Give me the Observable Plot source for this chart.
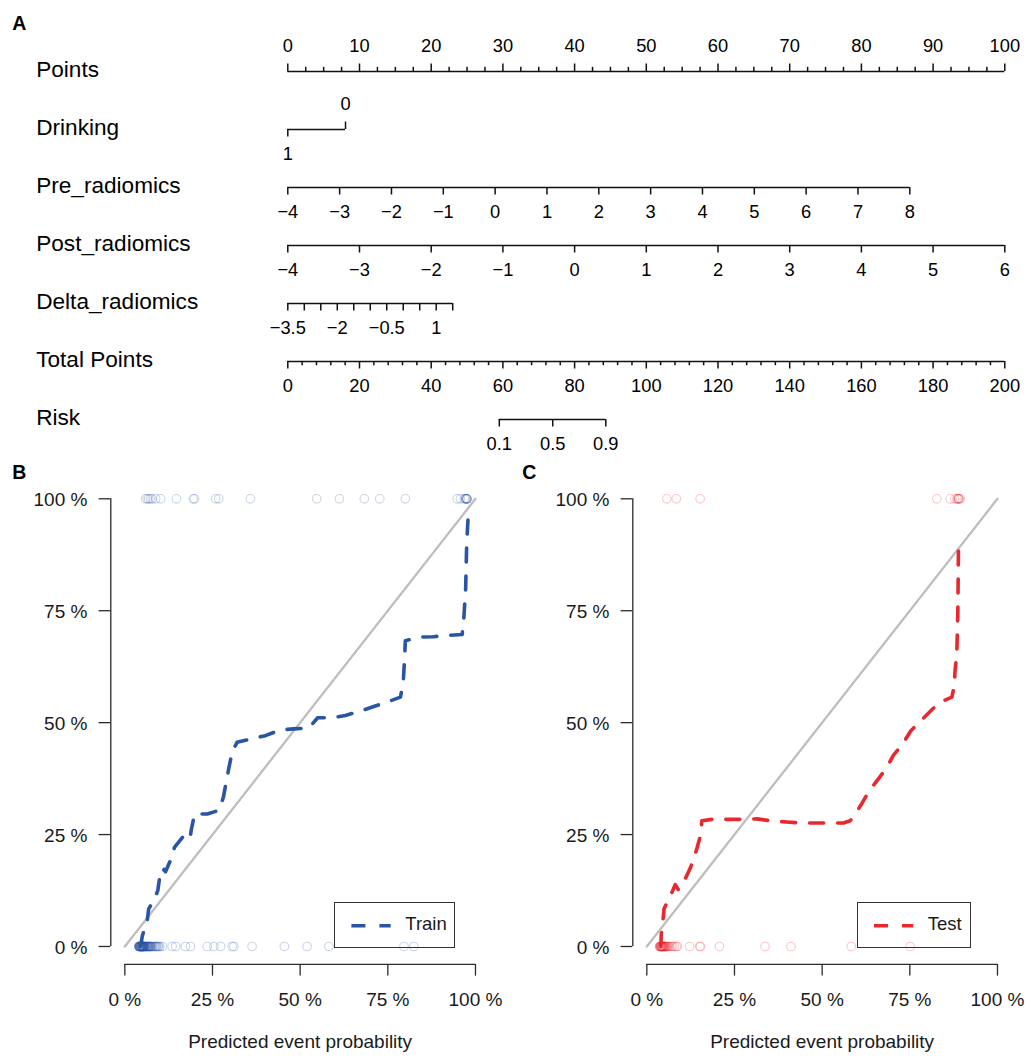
<!DOCTYPE html>
<html>
<head>
<meta charset="utf-8">
<script src="https://cdn.jsdelivr.net/npm/d3@7"></script>
<script src="https://cdn.jsdelivr.net/npm/@observablehq/plot@0.6"></script>
<style>
  html, body { margin: 0; padding: 0; background: #fff; }
  #root { position: relative; width: 1029px; height: 1057px; overflow: hidden;
          font-family: "Liberation Sans", Arial, Helvetica, sans-serif; color: #000; }
  .panel { position: absolute; }
  .tag { position: absolute; font-weight: bold; font-size: 19.5px; line-height: 19.5px; }
  .legend { position: absolute; box-sizing: border-box; border: 1.3px solid #333; background: transparent; }
  .legend svg { position: absolute; left: 0; top: 0; }
  .legend span { position: absolute; font-size: 18.5px; line-height: 1; }
</style>
</head>
<body>
<div id="root"></div>
<script>
// ---------------- Data: nomogram (panel A) ----------------
const nomoRows = ["Points", "Drinking", "Pre_radiomics", "Post_radiomics", "Delta_radiomics", "Total Points", "Risk"];

const pointsLabels = [0, 10, 20, 30, 40, 50, 60, 70, 80, 90, 100];
const pointsMinorStep = 2.5;

const drinkingLevels = ["1", "0"];
const drinkingPoints = [0, 8.05];

const preRadiomicsValues = [-4, -3, -2, -1, 0, 1, 2, 3, 4, 5, 6, 7, 8];
const preRadiomicsPoints = [0, 86.75];      // points at -4 and at 8

const postRadiomicsValues = [-4, -3, -2, -1, 0, 1, 2, 3, 4, 5, 6];
const postRadiomicsPoints = [0, 100];       // points at -4 and at 6

const deltaRadiomicsValues = [-3.5, -3, -2.5, -2, -1.5, -1, -0.5, 0, 0.5, 1, 1.5];
const deltaRadiomicsLabels = [-3.5, -2, -0.5, 1];
const deltaRadiomicsPoints = [0, 23.0];     // points at -3.5 and at 1.5

const totalPointsLabels = [0, 20, 40, 60, 80, 100, 120, 140, 160, 180, 200];
const totalPointsMinorStep = 4;

const riskLabels = [0.1, 0.5, 0.9];
const riskTotalPoints = [59.0, 73.9, 88.7];

// ---------------- Data: calibration (panels B, C) ----------------
const trainCurveX = [0.045,0.050,0.064,0.068,0.083,0.094,0.102,0.108,0.112,0.116,0.130,0.142,0.173,0.187,0.189,0.199,0.235,0.268,0.281,0.297,0.306,0.320,0.363,0.401,0.444,0.482,0.525,0.550,0.591,0.629,0.672,0.710,0.748,0.786,0.794,0.798,0.800,0.843,0.880,0.924,0.962,0.967,0.972,0.975,0.979];
const trainCurveY = [0.000,0.024,0.058,0.084,0.103,0.125,0.168,0.165,0.172,0.167,0.192,0.222,0.252,0.244,0.259,0.296,0.296,0.304,0.333,0.400,0.434,0.456,0.464,0.471,0.484,0.486,0.488,0.511,0.511,0.516,0.526,0.536,0.546,0.557,0.590,0.646,0.683,0.691,0.692,0.695,0.697,0.736,0.800,0.900,0.959];
const trainEventPred = [0.059,0.064,0.068,0.073,0.078,0.088,0.102,0.147,0.195,0.199,0.259,0.268,0.358,0.547,0.612,0.683,0.727,0.800,0.948,0.957,0.968,0.971,0.973,0.974,0.975,0.976,0.976];
const trainNoEventPred = [0.040,0.040,0.041,0.041,0.042,0.042,0.043,0.043,0.044,0.044,0.045,0.045,0.046,0.046,0.047,0.047,0.048,0.048,0.049,0.049,0.050,0.050,0.051,0.051,0.052,0.052,0.053,0.053,0.054,0.054,0.055,0.055,0.056,0.057,0.058,0.059,0.060,0.061,0.062,0.063,0.064,0.065,0.066,0.067,0.068,0.069,0.070,0.071,0.072,0.073,0.074,0.076,0.078,0.080,0.083,0.086,0.088,0.090,0.092,0.095,0.097,0.100,0.107,0.135,0.145,0.173,0.187,0.235,0.254,0.273,0.306,0.311,0.363,0.455,0.520,0.582,0.796,0.824];

const testCurveX = [0.040,0.041,0.046,0.049,0.074,0.081,0.090,0.112,0.125,0.141,0.153,0.157,0.186,0.229,0.267,0.314,0.352,0.399,0.437,0.476,0.514,0.561,0.580,0.589,0.613,0.632,0.661,0.685,0.703,0.730,0.753,0.784,0.813,0.837,0.870,0.877,0.879,0.884,0.887,0.889];
const testCurveY = [0.000,0.025,0.058,0.084,0.125,0.138,0.127,0.155,0.177,0.214,0.248,0.281,0.284,0.284,0.284,0.285,0.281,0.278,0.276,0.276,0.276,0.276,0.281,0.289,0.319,0.345,0.375,0.400,0.427,0.453,0.482,0.506,0.529,0.546,0.557,0.583,0.616,0.654,0.750,0.908];
const testEventPred = [0.057,0.084,0.152,0.827,0.865,0.878,0.884,0.887,0.889,0.889,0.891,0.894];
const testNoEventPred = [0.036,0.037,0.038,0.039,0.040,0.040,0.041,0.042,0.042,0.043,0.044,0.045,0.045,0.046,0.047,0.048,0.049,0.050,0.051,0.052,0.053,0.055,0.056,0.058,0.059,0.062,0.066,0.070,0.074,0.079,0.084,0.087,0.122,0.151,0.153,0.207,0.337,0.411,0.583,0.751];

const calAxisTicks = [0, 0.25, 0.5, 0.75, 1];
const calAxisTitle = "Predicted event probability";
const legendNames = ["Train", "Test"];
const colTrain = "#2a54a4";
const colTest = "#e8282e";

// ---------------- helpers ----------------
const FONT = "'Liberation Sans', Arial, Helvetica, sans-serif";
const fmt = v => String(v).replace("-", "\u2212");
const lin = (vals, ptsRange) => v => ptsRange[0] + (v - vals[0]) / (vals[vals.length - 1] - vals[0]) * (ptsRange[1] - ptsRange[0]);
const root = document.getElementById("root");

// ---------------- Panel A: nomogram ----------------
const ticks = [];
const add = (row, pts, label, dir, major) => ticks.push({row, pts, label: label == null ? null : fmt(label), dir, major});

d3.range(0, 100 + 1e-9, pointsMinorStep).forEach(v => {
  const isMajor = pointsLabels.includes(v);
  add("Points", v, isMajor ? v : null, "up", isMajor);
});
add("Drinking", drinkingPoints[0], drinkingLevels[0], "down", true);
add("Drinking", drinkingPoints[1], drinkingLevels[1], "up", true);
const preMap = lin(preRadiomicsValues, preRadiomicsPoints);
preRadiomicsValues.forEach(v => add("Pre_radiomics", preMap(v), v, "down", true));
const postMap = lin(postRadiomicsValues, postRadiomicsPoints);
postRadiomicsValues.forEach(v => add("Post_radiomics", postMap(v), v, "down", true));
const deltaMap = lin(deltaRadiomicsValues, deltaRadiomicsPoints);
deltaRadiomicsValues.forEach(v => add("Delta_radiomics", deltaMap(v), deltaRadiomicsLabels.includes(v) ? v : null, "down", true));
const totalMax = totalPointsLabels[totalPointsLabels.length - 1];
const totalToPts = t => t / totalMax * 100;
d3.range(0, totalMax + 1e-9, totalPointsMinorStep).concat(totalPointsLabels)
  .filter((v, i, a) => a.indexOf(v) === i)
  .forEach(v => {
    const isMajor = totalPointsLabels.includes(v);
    add("Total Points", totalToPts(v), isMajor ? v : null, "down", isMajor);
  });
riskLabels.forEach((r, i) => add("Risk", totalToPts(riskTotalPoints[i]), r, "down", true));

const segments = nomoRows.map(row => {
  const e = d3.extent(ticks.filter(t => t.row === row), t => t.pts);
  return {row, start: e[0], end: e[1]};
});

const lineCol = "#111";
const nomo = Plot.plot({
  width: 1029, height: 455,
  marginLeft: 0, marginRight: 0, marginTop: 0, marginBottom: 0,
  x: {domain: [0, 100], range: [287.3, 1004.3], axis: null},
  y: {type: "point", domain: nomoRows, range: [69.3, 421.7], padding: 0, axis: null},
  style: {fontFamily: FONT, color: "#000", background: "transparent", overflow: "visible"},
  marks: [
    Plot.ruleY(segments, {y: "row", x1: "start", x2: "end", stroke: lineCol, strokeWidth: 1.5}),
    Plot.ruleX(ticks.filter(t => t.dir === "up" && t.major), {x: "pts", y1: "row", y2: "row", insetTop: -7.5, stroke: lineCol, strokeWidth: 1.5}),
    Plot.ruleX(ticks.filter(t => t.dir === "up" && !t.major), {x: "pts", y1: "row", y2: "row", insetTop: -4.2, stroke: lineCol, strokeWidth: 1.5}),
    Plot.ruleX(ticks.filter(t => t.dir === "down" && t.major), {x: "pts", y1: "row", y2: "row", insetBottom: -7.5, stroke: lineCol, strokeWidth: 1.5}),
    Plot.ruleX(ticks.filter(t => t.dir === "down" && !t.major), {x: "pts", y1: "row", y2: "row", insetBottom: -4.2, stroke: lineCol, strokeWidth: 1.5}),
    Plot.text(ticks.filter(t => t.label != null && t.dir === "up"), {x: "pts", y: "row", text: "label", dy: -25.2, fontSize: 18.3, fill: "#000"}),
    Plot.text(ticks.filter(t => t.label != null && t.dir === "down"), {x: "pts", y: "row", text: "label", dy: 24.5, fontSize: 18.3, fill: "#000"}),
    Plot.text(nomoRows, {y: d => d, text: d => d, frameAnchor: "left", dx: 35.7, dy: -1.8, textAnchor: "start", fontSize: 22.6, fill: "#000"})
  ]
});
nomo.classList.add("panel");
nomo.style.left = "0px"; nomo.style.top = "0px";
root.appendChild(nomo);

// ---------------- Panels B and C: calibration ----------------
const usrLim = [-0.04, 1.04];
const pct = d => `${Math.round(d * 100)} %`;

function calibPlot(curveX, curveY, eventPred, noEventPred, color, width) {
  const curve = curveX.map((x, i) => ({x, y: curveY[i]}));
  const rug = eventPred.map(x => ({x, y: 1})).concat(noEventPred.map(x => ({x, y: 0})));
  const axisCol = "#2b2b2b";
  return Plot.plot({
    width, height: 602,
    marginLeft: 110.3, marginRight: width - 489, marginTop: 25.4, marginBottom: 93.1,
    x: {domain: usrLim, axis: null},
    y: {domain: usrLim, axis: null},
    style: {fontFamily: FONT, color: "#000", background: "transparent", overflow: "visible"},
    marks: [
      Plot.ruleX([usrLim[0]], {x: d => d, y1: calAxisTicks[0], y2: calAxisTicks[calAxisTicks.length - 1], stroke: axisCol, strokeWidth: 1.3}),
      Plot.ruleY(calAxisTicks, {y: d => d, x1: usrLim[0], x2: usrLim[0], insetLeft: -11.7, stroke: axisCol, strokeWidth: 1.3}),
      Plot.text(calAxisTicks, {x: usrLim[0], y: d => d, text: pct, textAnchor: "end", dx: -23.4, dy: 1.5, fontSize: 19, fill: "#1a1a1a"}),
      Plot.ruleY([usrLim[0]], {y: d => d, x1: calAxisTicks[0], x2: calAxisTicks[calAxisTicks.length - 1], stroke: axisCol, strokeWidth: 1.3}),
      Plot.ruleX(calAxisTicks, {x: d => d, y1: usrLim[0], y2: usrLim[0], insetBottom: -11.7, stroke: axisCol, strokeWidth: 1.3}),
      Plot.text(calAxisTicks, {x: d => d, y: usrLim[0], text: pct, dy: 35.9, fontSize: 19, fill: "#1a1a1a"}),
      Plot.text([calAxisTitle], {frameAnchor: "bottom", text: d => d, dy: 83.1, fontSize: 19, fill: "#1a1a1a"}),
      Plot.line(calAxisTicks.filter(d => d === 0 || d === 1), {x: d => d, y: d => d, stroke: "#bebebe", strokeWidth: 2.3}),
      Plot.dot(rug, {x: "x", y: "y", r: 4.3, stroke: color, strokeOpacity: 0.25, strokeWidth: 1.1, fill: "none"}),
      Plot.line(curve, {x: "x", y: "y", stroke: color, strokeWidth: 3.6, strokeDasharray: "14,14", strokeLinejoin: "round"})
    ]
  });
}

const pB = calibPlot(trainCurveX, trainCurveY, trainEventPred, trainNoEventPred, colTrain, 514);
pB.classList.add("panel"); pB.style.left = "0px"; pB.style.top = "455px";
root.appendChild(pB);

const pC = calibPlot(testCurveX, testCurveY, testEventPred, testNoEventPred, colTest, 506);
pC.classList.add("panel"); pC.style.left = "522.4px"; pC.style.top = "455px";
root.appendChild(pC);

// ---------------- Legends ----------------
function legend(name, color, box, x1, x2, textX) {
  const d = document.createElement("div");
  d.className = "legend";
  Object.assign(d.style, {left: box[0] + "px", top: box[1] + "px", width: box[2] + "px", height: box[3] + "px"});
  const w = box[2], h = box[3];
  d.innerHTML = `<svg width="${w}" height="${h}"><line x1="${x1 - box[0]}" x2="${x2 - box[0]}" y1="${h / 2 - 0.6}" y2="${h / 2 - 0.6}" stroke="${color}" stroke-width="3.6" stroke-dasharray="14,14"/></svg><span style="left:${textX - box[0]}px;top:${h / 2 - 11}px;color:#1a1a1a">${name}</span>`;
  root.appendChild(d);
}
legend(legendNames[0], colTrain, [334.3, 901.7, 120.7, 46.6], 350.7, 390, 404.3);
legend(legendNames[1], colTest, [856.7, 901.7, 114, 46.6], 872.7, 912, 926.7);

// ---------------- Panel tags ----------------
[["A", 12.3, 14.2], ["B", 12.3, 462.5], ["C", 522.3, 462.5]].forEach(([t, x, y]) => {
  const s = document.createElement("div");
  s.className = "tag"; s.textContent = t;
  s.style.left = x + "px"; s.style.top = y + "px";
  root.appendChild(s);
});
</script>
</body>
</html>
